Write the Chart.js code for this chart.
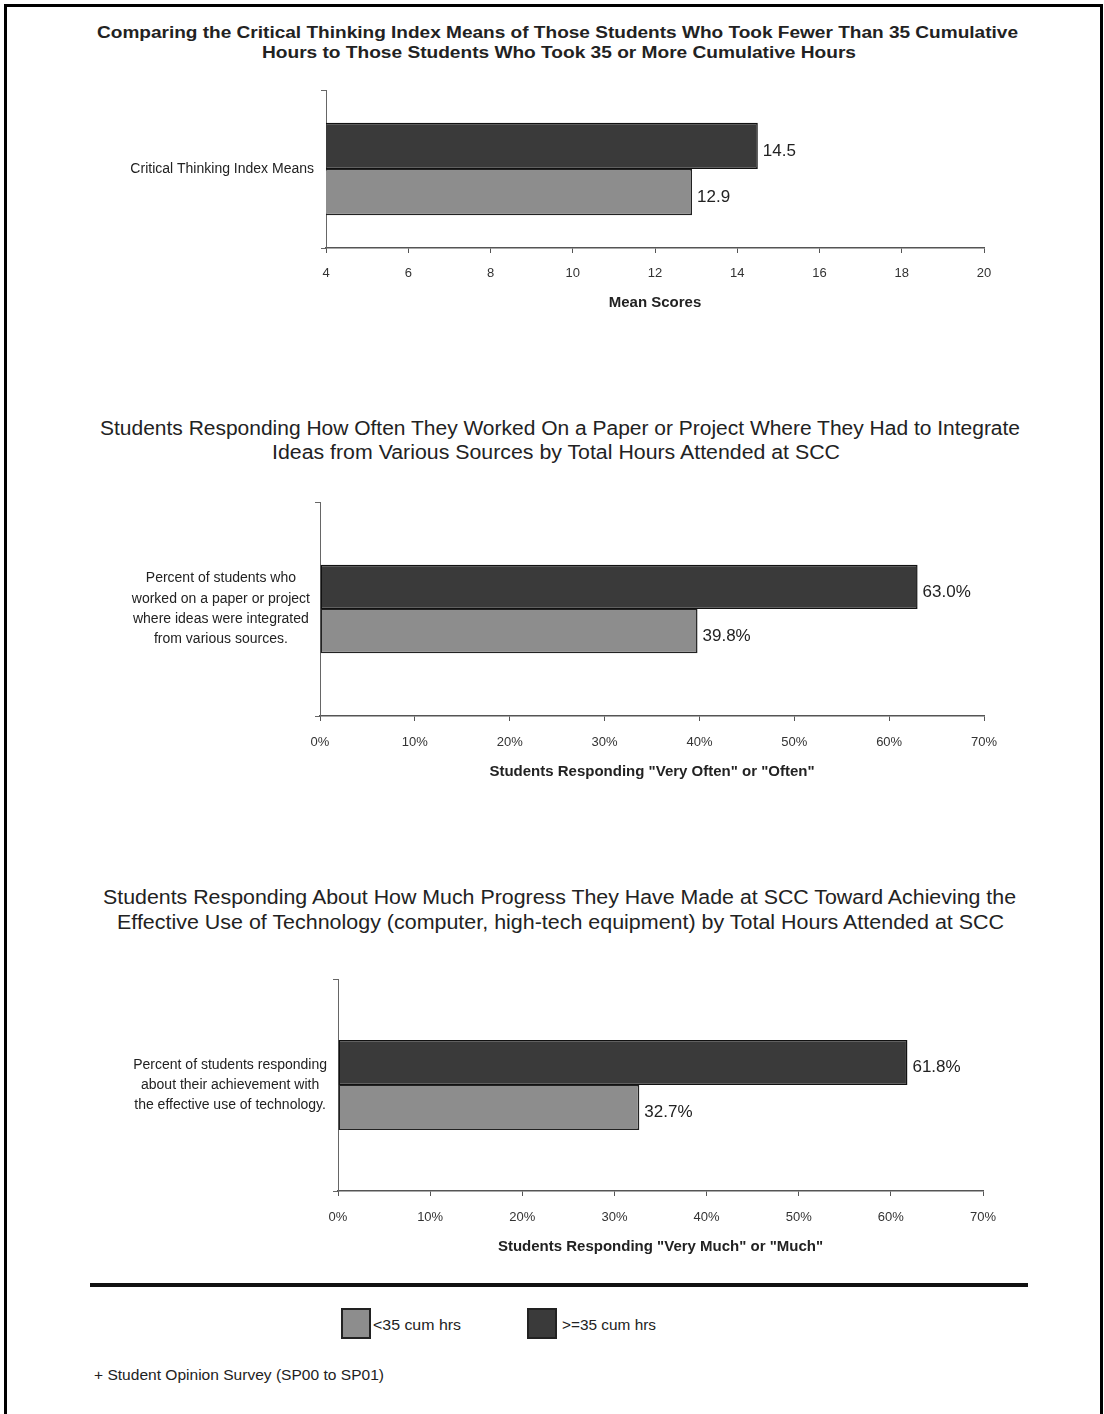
<!DOCTYPE html>
<html>
<head>
<meta charset="utf-8">
<script src="https://cdn.jsdelivr.net/npm/chart.js@4.4.1/dist/chart.umd.min.js"></script>
<style>
  html, body { margin: 0; padding: 0; background: #fff; }
  body { width: 1104px; height: 1414px; position: relative; overflow: hidden;
         font-family: "Liberation Sans", Arial, sans-serif; color: #222; }
  .frame { position: absolute; left: 4px; top: 4px; width: 1093px; height: 1440px;
           border: 3px solid #000; border-bottom: none; }
  .line { position: absolute; white-space: nowrap; transform-origin: 0 50%; line-height: 24px; }
  .box { position: absolute; left: 0; width: 1104px; }
  .sep { position: absolute; left: 90px; top: 1283px; width: 938px; height: 4px; background: #111; }
  .swatch { position: absolute; width: 26px; height: 27px; border: 2px solid #222; }
</style>
</head>
<body>
<div class="frame"></div>
<div class="box" style="top:80px;height:240px"><canvas id="chart1"></canvas></div>
<div class="box" style="top:490px;height:310px"><canvas id="chart2"></canvas></div>
<div class="box" style="top:960px;height:310px"><canvas id="chart3"></canvas></div>
<div class="sep"></div>
<script>
// series (shared legend)
const seriesNames = ['<35 cum hrs', '>=35 cum hrs'];
const seriesColors = ['#8d8d8d', '#3a3a3a'];

// chart 1
const chart1Title = [
  'Comparing the Critical Thinking Index Means of Those Students Who Took Fewer Than 35 Cumulative',
  'Hours to Those Students Who Took 35 or More Cumulative Hours'
];
const chart1Labels = ['Critical Thinking Index Means'];
const chart1Under35 = [12.9];
const chart1Over35 = [14.5];
const chart1Ticks = [4, 6, 8, 10, 12, 14, 16, 18, 20];
const chart1AxisTitle = 'Mean Scores';

// chart 2
const chart2Title = [
  'Students Responding How Often They Worked On a Paper or Project Where They Had to Integrate',
  'Ideas from Various Sources by Total Hours Attended at SCC'
];
const chart2Labels = [['Percent of students who', 'worked on a paper or project', 'where ideas were integrated', 'from various sources.']];
const chart2Under35 = [39.8];
const chart2Over35 = [63.0];
const chart2AxisTitle = 'Students Responding "Very Often" or "Often"';

// chart 3
const chart3Title = [
  'Students Responding About How Much Progress They Have Made at SCC Toward Achieving the',
  'Effective Use of Technology (computer, high-tech equipment) by Total Hours Attended at SCC'
];
const chart3Labels = [['Percent of students responding', 'about their achievement with', 'the effective use of technology.']];
const chart3Under35 = [32.7];
const chart3Over35 = [61.8];
const chart3AxisTitle = 'Students Responding "Very Much" or "Much"';

const percentTicks = [0, 10, 20, 30, 40, 50, 60, 70];
const footnote = '+ Student Opinion Survey (SP00 to SP01)';

const FONT = '"Liberation Sans", Arial, sans-serif';

// text line stretched to the width it has in the scan
function placeLine(text, x0, x1, yc, font) {
  const el = document.createElement('div');
  el.className = 'line';
  el.textContent = text;
  el.style.font = font;
  el.style.lineHeight = '24px';
  el.style.left = x0 + 'px';
  el.style.top = (yc - 12) + 'px';
  document.body.appendChild(el);
  const w = el.getBoundingClientRect().width;
  el.style.transform = 'scaleX(' + ((x1 - x0) / w).toFixed(4) + ')';
  return el;
}

placeLine(chart1Title[0], 97, 1018, 33, 'bold 16px ' + FONT);
placeLine(chart1Title[1], 262, 856, 53, 'bold 16px ' + FONT);
placeLine(chart2Title[0], 100, 1020, 428, '20px ' + FONT);
placeLine(chart2Title[1], 272, 840, 452, '20px ' + FONT);
placeLine(chart3Title[0], 103, 1016, 897, '20px ' + FONT);
placeLine(chart3Title[1], 117, 1004, 922, '20px ' + FONT);

// legend
const legendPos = [{ box: 341, text: [373, 461] }, { box: 527, text: [562, 656] }];
seriesNames.forEach((name, i) => {
  const sw = document.createElement('div');
  sw.className = 'swatch';
  sw.style.left = legendPos[i].box + 'px';
  sw.style.top = '1308px';
  sw.style.background = seriesColors[i];
  document.body.appendChild(sw);
  placeLine(name, legendPos[i].text[0], legendPos[i].text[1], 1325, '14px ' + FONT);
});
placeLine(footnote, 94, 384, 1375, '14px ' + FONT);

function valueLabels(fmt) {
  return {
    id: 'valueLabels',
    afterDatasetsDraw(chart) {
      const ctx = chart.ctx;
      ctx.save();
      ctx.font = '17px ' + FONT;
      ctx.fillStyle = '#222';
      ctx.textBaseline = 'middle';
      ctx.textAlign = 'left';
      chart.data.datasets.forEach((ds, i) => {
        chart.getDatasetMeta(i).data.forEach((bar, j) => {
          ctx.fillText(fmt(ds.data[j]), bar.x + 5, bar.y + 5);
        });
      });
      ctx.restore();
    }
  };
}

function makeChart(id, cfg) {
  return new Chart(document.getElementById(id), {
    type: 'bar',
    data: {
      labels: cfg.labels,
      datasets: [
        { label: seriesNames[1], data: cfg.over, backgroundColor: seriesColors[1],
          borderColor: '#111', borderWidth: 1.5, borderSkipped: false,
          categoryPercentage: cfg.band, barPercentage: 1 },
        { label: seriesNames[0], data: cfg.under, backgroundColor: seriesColors[0],
          borderColor: '#222', borderWidth: 1.5, borderSkipped: false,
          categoryPercentage: cfg.band, barPercentage: 1 }
      ]
    },
    options: {
      indexAxis: 'y',
      responsive: true,
      maintainAspectRatio: false,
      animation: false,
      layout: { padding: { top: cfg.padTop, right: cfg.padRight, left: 0, bottom: 0 } },
      plugins: { legend: { display: false }, tooltip: { enabled: false } },
      scales: {
        x: {
          min: cfg.ticks[0],
          max: cfg.ticks[cfg.ticks.length - 1],
          afterBuildTicks: s => { s.ticks = cfg.ticks.map(v => ({ value: v })); },
          afterFit: s => { s.height = cfg.xHeight; },
          grid: { drawOnChartArea: false, drawTicks: true, tickLength: 5, color: '#555' },
          border: { display: true, color: '#555', width: 1.5 },
          ticks: { padding: cfg.tickPad, color: '#333', maxRotation: 0, autoSkip: false,
                   font: { family: FONT, size: 13 }, callback: v => cfg.fmtTick(v) },
          title: { display: true, text: cfg.axisTitle, color: '#222',
                   font: { family: FONT, size: 15, weight: 'bold' },
                   padding: { top: 0, bottom: cfg.titlePad } }
        },
        y: {
          afterFit: s => { s.width = cfg.yWidth; s.paddingTop = 0; s.paddingBottom = 0; },
          grid: { drawOnChartArea: false, tickLength: 5, color: '#666' },
          border: { color: '#666', width: 1 },
          ticks: { crossAlign: 'center', padding: cfg.labelPad, color: '#222',
                   font: { family: FONT, size: 14, lineHeight: 1.45 } }
        }
      }
    },
    plugins: [valueLabels(cfg.fmtValue)]
  });
}

makeChart('chart1', {
  labels: chart1Labels, under: chart1Under35, over: chart1Over35, ticks: chart1Ticks,
  axisTitle: chart1AxisTitle, band: 0.586,
  padTop: 10, padRight: 120, yWidth: 326, xHeight: 72, tickPad: 13, titlePad: 8, labelPad: 7,
  fmtTick: v => String(v), fmtValue: v => v.toFixed(1)
});

makeChart('chart2', {
  labels: chart2Labels, under: chart2Under35, over: chart2Over35, ticks: percentTicks,
  axisTitle: chart2AxisTitle, band: 0.413,
  padTop: 12, padRight: 120, yWidth: 320, xHeight: 84, tickPad: 14, titlePad: 19, labelPad: 5,
  fmtTick: v => v + '%', fmtValue: v => v.toFixed(1) + '%'
});

makeChart('chart3', {
  labels: chart3Labels, under: chart3Under35, over: chart3Over35, ticks: percentTicks,
  axisTitle: chart3AxisTitle, band: 0.425,
  padTop: 19, padRight: 121, yWidth: 338, xHeight: 79, tickPad: 14, titlePad: 14, labelPad: 6,
  fmtTick: v => v + '%', fmtValue: v => v.toFixed(1) + '%'
});
</script>
</body>
</html>
